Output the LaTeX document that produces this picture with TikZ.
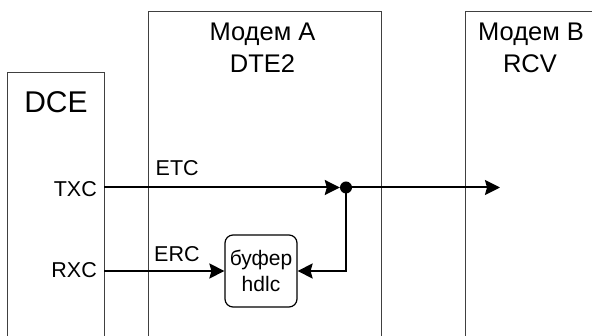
\documentclass[tikz,border=0pt]{standalone}
\usepackage{fontspec}
\setmainfont{Liberation Sans}
\usetikzlibrary{arrows.meta}
\begin{document}
\begin{tikzpicture}[x=1pt,y=-1pt,
  frame/.style={draw=black!75,line width=1pt,inner sep=0pt,outer sep=0pt,anchor=north west},
  conn/.style={line width=2pt,-{Stealth[length=15pt,width=15pt,inset=2pt]}},
  lbl/.style={font=\fontsize{21.5}{26}\selectfont,inner sep=0pt},
  ttl/.style={font=\fontsize{25.5}{30}\selectfont,inner sep=0pt,anchor=base},
  bigl/.style={font=\fontsize{30}{34}\selectfont,inner sep=0pt},
]
\useasboundingbox (0,0) rectangle (592,336);
\clip (0,0) rectangle (592,336);
% boxes
\node[frame,minimum width=97pt,minimum height=300pt] (dce) at (7,73) {};
\node[frame,minimum width=233pt,minimum height=360pt] (moda) at (148,12) {};
\node[frame,minimum width=132pt,minimum height=360pt] (modb) at (465,12) {};
\node[draw=black,line width=1.2pt,rounded corners=8pt,minimum width=72pt,minimum height=72pt,
      inner sep=0pt,align=center,font=\fontsize{21}{25.5}\selectfont] (buf) at (261,271) {буфер\\hdlc};
% titles
\node[bigl,anchor=base] (tdce) at (56,112.7) {DCE};
\node[ttl] (ta1) at (262.5,40.5) {Модем A};
\node[ttl] (ta2) at (262.5,73) {DTE2};
\node[ttl] (tb1) at (531,40.5) {Модем B};
\node[ttl] (tb2) at (530,73) {RCV};
% signal labels
\node[lbl,anchor=base east] (ltxc) at (97,196.7) {TXC};
\node[lbl,anchor=base east] (lrxc) at (97,278) {RXC};
\node[lbl,anchor=base west] (letc) at (155.5,176) {ETC};
\node[lbl,anchor=base west] (lerc) at (154,261.7) {ERC};
% connectors
\coordinate (txcS) at (104,187.5);
\coordinate (rxcS) at (104,271);
\coordinate (out) at (500,187.5);
\node[circle,fill=black,inner sep=0pt,minimum size=12pt] (dot) at (346,187.5) {};
\draw[conn] (txcS) -- (dot);
\draw[conn] (dot.center) -- (out);
\draw[conn] (dot.center) |- (buf.east);
\draw[conn] (rxcS) -- (buf.west);
\end{tikzpicture}
\end{document}
